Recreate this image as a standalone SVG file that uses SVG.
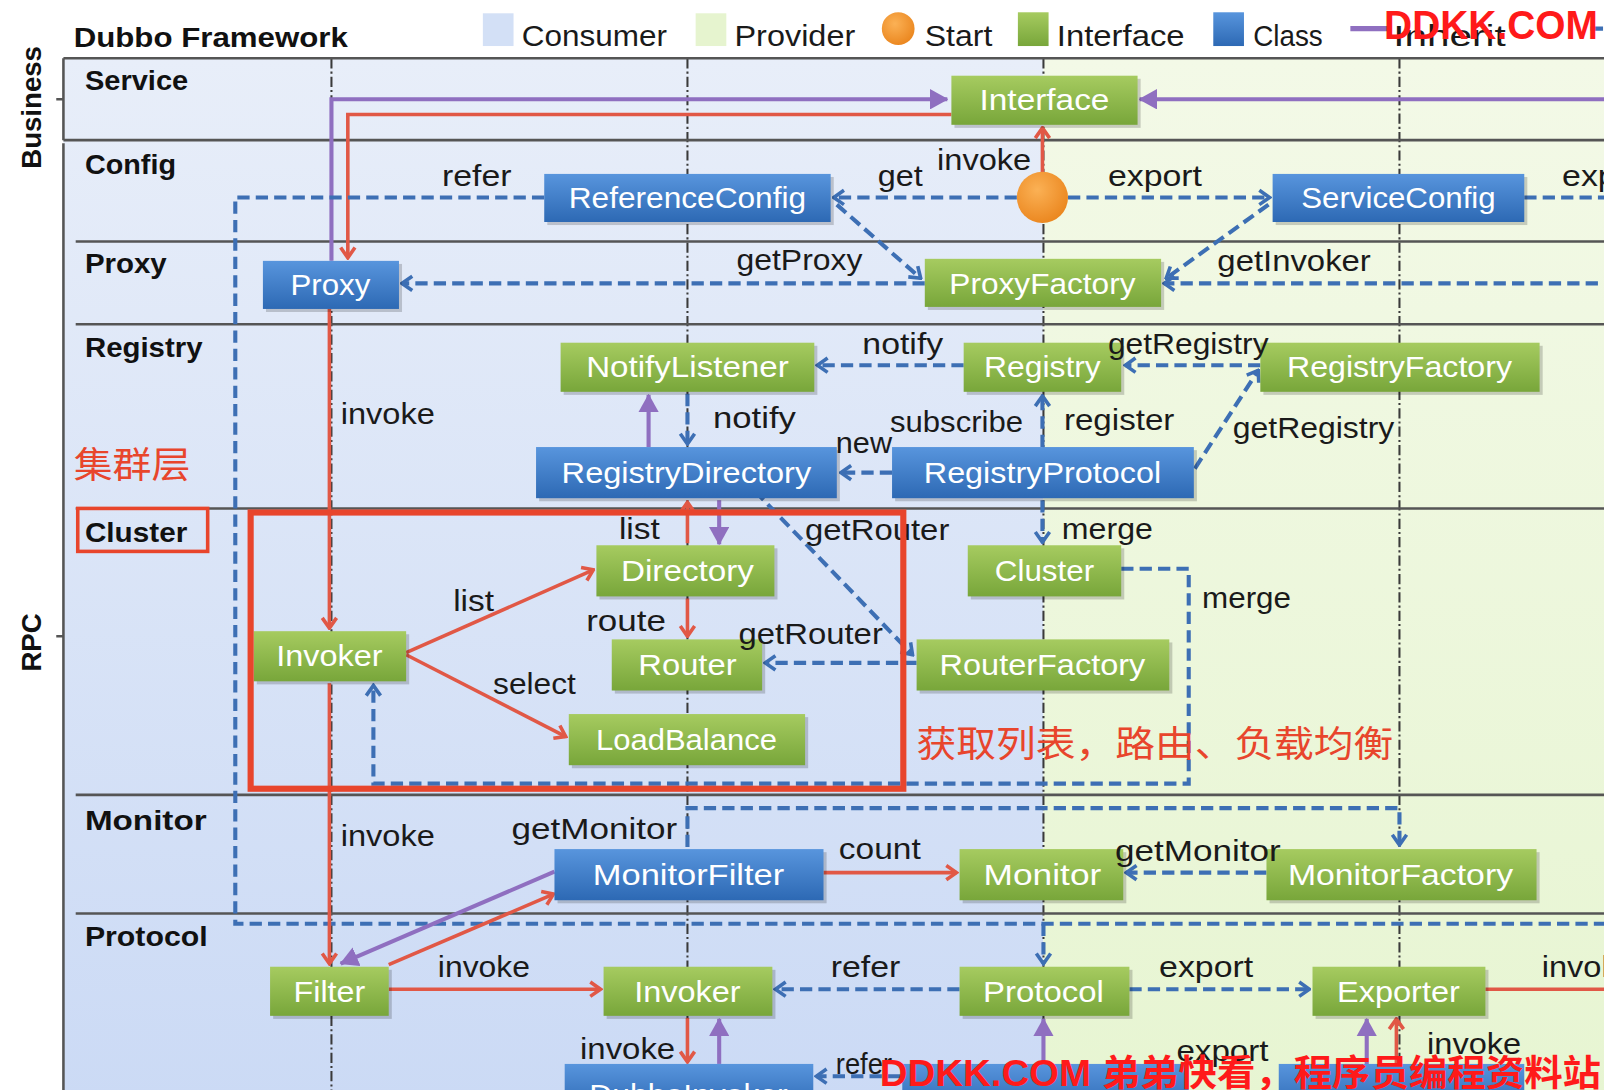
<svg xmlns="http://www.w3.org/2000/svg" width="1604" height="1090" viewBox="0 0 1604 1090">
<defs>
<style>
.nt{font-family:"Liberation Sans",Arial,sans-serif;font-size:28px;fill:#ffffff;text-anchor:middle}
.lb{font-family:"Liberation Sans",Arial,sans-serif;font-size:28px;fill:#1a1a1a}
.ly{font-family:"Liberation Sans",Arial,sans-serif;font-size:27px;font-weight:bold;fill:#111}
.lg{font-family:"Liberation Sans",Arial,sans-serif;font-size:29px;fill:#1a1a1a}
.g{fill:url(#gg)}
.b{fill:url(#bg)}
.sh{fill:#000;opacity:0.18}
.dash{stroke:#3d6fb4;stroke-width:4;stroke-dasharray:12 6;fill:none}
.red{stroke:#e15846;stroke-width:3.5;fill:none}
.pur{stroke:#8f6fc0;stroke-width:4;fill:none}
.dd{stroke:#3a3a3a;stroke-width:2;stroke-dasharray:10 3 2 3;fill:none}
.hl{stroke:#555;stroke-width:2.5;fill:none}
.ann{font-family:"Noto Sans CJK SC","Noto Sans",sans-serif;font-size:36px;fill:#e8452c}
.wm{font-family:"Liberation Sans","Noto Sans CJK SC",sans-serif;font-weight:bold;fill:#ff1a1a}
</style>
<linearGradient id="gg" x1="0" y1="0" x2="0" y2="1"><stop offset="0" stop-color="#a6cb60"/><stop offset="1" stop-color="#78a63a"/></linearGradient>
<linearGradient id="bg" x1="0" y1="0" x2="0" y2="1"><stop offset="0" stop-color="#5895dd"/><stop offset="1" stop-color="#2d69b4"/></linearGradient>
<linearGradient id="cbg" x1="0" y1="0" x2="0" y2="1"><stop offset="0" stop-color="#e8eef9"/><stop offset="1" stop-color="#cbdaf5"/></linearGradient>
<linearGradient id="pbg" x1="0" y1="0" x2="0" y2="1"><stop offset="0" stop-color="#f3f9e7"/><stop offset="1" stop-color="#e7f5d2"/></linearGradient>
<radialGradient id="og" cx="0.4" cy="0.35" r="0.7"><stop offset="0" stop-color="#fbb155"/><stop offset="1" stop-color="#ea851d"/></radialGradient>
<marker id="ab" viewBox="0 0 14 18" refX="12" refY="9" markerWidth="14" markerHeight="18" markerUnits="userSpaceOnUse" orient="auto"><path d="M2,2 L12,9 L2,16" fill="none" stroke="#3d6fb4" stroke-width="3.5"/></marker>
<marker id="ar" viewBox="0 0 14 18" refX="12" refY="9" markerWidth="14" markerHeight="18" markerUnits="userSpaceOnUse" orient="auto"><path d="M2,2 L12,9 L2,16" fill="none" stroke="#e15846" stroke-width="3.5"/></marker>
<marker id="ap" viewBox="0 0 18 20" refX="17" refY="10" markerWidth="18" markerHeight="20" markerUnits="userSpaceOnUse" orient="auto"><path d="M0,0 L18,10 L0,20 Z" fill="#8f6fc0"/></marker>
</defs>
<rect x="0" y="0" width="1604" height="1090" fill="#ffffff"/>
<g transform="scale(1.023)">
<g id="background">
<rect x="62" y="57" width="958" height="1020" fill="url(#cbg)"/>
<rect x="1020" y="57" width="560" height="1020" fill="url(#pbg)"/>
<path class="dd" d="M324,57 V1070 M672,57 V1070 M1020,57 V1070 M1368,57 V1070"/>
<path class="hl" d="M62,57 H1580 M62,137 H1580 M74,236 H1580 M74,317 H1580 M74,497 H1580 M74,777 H1580 M74,893 H1580"/>
<path class="hl" d="M62,57 V137 M55,97 H62 M62,140 V1070 M55,622 H62"/>
<text class="ly" transform="translate(40,105) rotate(-90)" text-anchor="middle" textLength="120" lengthAdjust="spacingAndGlyphs">Business</text>
<text class="ly" transform="translate(40,628) rotate(-90)" text-anchor="middle" textLength="57" lengthAdjust="spacingAndGlyphs">RPC</text>
<text class="ly" x="83" y="88" textLength="101" lengthAdjust="spacingAndGlyphs">Service</text>
<text class="ly" x="83" y="170" textLength="89" lengthAdjust="spacingAndGlyphs">Config</text>
<text class="ly" x="83" y="267" textLength="80" lengthAdjust="spacingAndGlyphs">Proxy</text>
<text class="ly" x="83" y="349" textLength="115" lengthAdjust="spacingAndGlyphs">Registry</text>
<text class="ly" x="83" y="530" textLength="100" lengthAdjust="spacingAndGlyphs">Cluster</text>
<text class="ly" x="83" y="811" textLength="119" lengthAdjust="spacingAndGlyphs">Monitor</text>
<text class="ly" x="83" y="925" textLength="120" lengthAdjust="spacingAndGlyphs">Protocol</text>
</g>
<g id="legend">
<text class="ly" x="72" y="46" font-size="28" textLength="268" lengthAdjust="spacingAndGlyphs">Dubbo Framework</text>
<rect x="472" y="13" width="30" height="32" fill="#d3e0f6"/>
<text class="lg" x="510" y="45" textLength="142" lengthAdjust="spacingAndGlyphs">Consumer</text>
<rect x="680" y="13" width="30" height="32" fill="#e6f4cf"/>
<text class="lg" x="718" y="45" textLength="118" lengthAdjust="spacingAndGlyphs">Provider</text>
<circle cx="878" cy="28" r="16" fill="url(#og)"/>
<text class="lg" x="904" y="45" textLength="66" lengthAdjust="spacingAndGlyphs">Start</text>
<rect x="995" y="12" width="30" height="33" fill="url(#gg)"/>
<text class="lg" x="1033" y="45" textLength="125" lengthAdjust="spacingAndGlyphs">Interface</text>
<rect x="1186" y="12" width="30" height="33" fill="url(#bg)"/>
<text class="lg" x="1225" y="45" textLength="68" lengthAdjust="spacingAndGlyphs">Class</text>
<path d="M1320,28 H1358" stroke="#8f6fc0" stroke-width="5"/>
<text class="lg" x="1362" y="45" textLength="110" lengthAdjust="spacingAndGlyphs">Inherit</text>
<path d="M1555,28 H1580" stroke="#3d6fb4" stroke-width="4" stroke-dasharray="12 6"/>
</g>
<g id="connectors">
<path class="pur" d="M324,255 V97 H926" marker-end="url(#ap)"/>
<path class="red" d="M930,112 H340 V252" marker-end="url(#ar)"/>
<path class="pur" d="M1580,97 H1114" marker-end="url(#ap)"/>
<path class="red" d="M1019,170 V125" marker-end="url(#ar)"/>
<path class="dash" d="M532,193 H230 V903 H1580"/>
<path class="dash" d="M1020,903 V942" marker-end="url(#ab)"/>
<path class="dash" d="M994,193 H815" marker-end="url(#ab)"/>
<path class="dash" d="M1044,193 H1241" marker-end="url(#ab)"/>
<path class="dash" d="M1490,193 H1580"/>
<path class="dash" d="M818,200 L900,272" marker-end="url(#ab)"/>
<path class="dash" d="M1240,200 L1140,272" marker-end="url(#ab)"/>
<path class="dash" d="M904,277 H393" marker-end="url(#ab)"/>
<path class="dash" d="M1580,277 H1138" marker-end="url(#ab)"/>
<path class="red" d="M322,302 V614" marker-end="url(#ar)"/>
<path class="dash" d="M942,357 H799" marker-end="url(#ab)"/>
<path class="dash" d="M1232,357 H1100" marker-end="url(#ab)"/>
<path class="dash" d="M1168,458 L1230,362" marker-end="url(#ab)"/>
<path class="dash" d="M1019,437 V387" marker-end="url(#ab)"/>
<path class="dash" d="M872,462 H822" marker-end="url(#ab)"/>
<path class="pur" d="M634,437 V386" marker-end="url(#ap)"/>
<path class="dash" d="M672,385 V434" marker-end="url(#ab)"/>
<path class="red" d="M672,531 V491" marker-end="url(#ar)"/>
<path class="pur" d="M703,489 V532" marker-end="url(#ap)"/>
<path class="dash" d="M738,480 L892,640" marker-end="url(#ab)"/>
<path class="dash" d="M1019,489 V530" marker-end="url(#ab)"/>
<path class="dash" d="M1096,556 H1162 V766 H365 V670" marker-end="url(#ab)"/>
<path class="red" d="M397,638 L580,557" marker-end="url(#ar)"/>
<path class="red" d="M397,640 L553,720" marker-end="url(#ar)"/>
<path class="red" d="M672,585 V622" marker-end="url(#ar)"/>
<path class="dash" d="M896,648 H748" marker-end="url(#ab)"/>
<path class="red" d="M322,668 V942" marker-end="url(#ar)"/>
<path class="dash" d="M672,828 V790 H1368 V826" marker-end="url(#ab)"/>
<path class="dash" d="M1238,853 H1101" marker-end="url(#ab)"/>
<path class="red" d="M805,853 H935" marker-end="url(#ar)"/>
<path class="pur" d="M542,852 L333,942" marker-end="url(#ap)"/>
<path class="red" d="M380,943 L541,874" marker-end="url(#ar)"/>
<path class="red" d="M380,967 H587" marker-end="url(#ar)"/>
<path class="dash" d="M938,967 H758" marker-end="url(#ab)"/>
<path class="dash" d="M1104,967 H1280" marker-end="url(#ab)"/>
<path class="red" d="M1452,967 H1580"/>
<path class="red" d="M672,995 V1038" marker-end="url(#ar)"/>
<path class="pur" d="M703,1040 V996" marker-end="url(#ap)"/>
<path class="pur" d="M1020,1045 V996" marker-end="url(#ap)"/>
<path class="pur" d="M1336,1045 V996" marker-end="url(#ap)"/>
<path class="red" d="M1365,1045 V996" marker-end="url(#ar)"/>
<path class="dash" d="M880,1052 H798" marker-end="url(#ab)"/>
</g>
<g id="n-start"><circle cx="1019" cy="193" r="25" fill="url(#og)"/></g>
<g id="n-interface"><rect class="sh" x="933" y="77" width="182" height="48"/><rect class="g" x="930" y="74" width="182" height="48"/><text class="nt" x="1021" y="108" textLength="127" lengthAdjust="spacingAndGlyphs">Interface</text></g>
<g id="n-referenceconfig"><rect class="sh" x="535" y="173" width="280" height="47"/><rect class="b" x="532" y="170" width="280" height="47"/><text class="nt" x="672" y="203" textLength="232" lengthAdjust="spacingAndGlyphs">ReferenceConfig</text></g>
<g id="n-serviceconfig"><rect class="sh" x="1247" y="173" width="246" height="47"/><rect class="b" x="1244" y="170" width="246" height="47"/><text class="nt" x="1367" y="203" textLength="190" lengthAdjust="spacingAndGlyphs">ServiceConfig</text></g>
<g id="n-proxy"><rect class="sh" x="260" y="258" width="133" height="47"/><rect class="b" x="257" y="255" width="133" height="47"/><text class="nt" x="323" y="288" textLength="78" lengthAdjust="spacingAndGlyphs">Proxy</text></g>
<g id="n-proxyfactory"><rect class="sh" x="907" y="256" width="231" height="47"/><rect class="g" x="904" y="253" width="231" height="47"/><text class="nt" x="1019" y="287" textLength="182" lengthAdjust="spacingAndGlyphs">ProxyFactory</text></g>
<g id="n-notifylistener"><rect class="sh" x="551" y="338" width="248" height="48"/><rect class="g" x="548" y="335" width="248" height="48"/><text class="nt" x="672" y="369" textLength="198" lengthAdjust="spacingAndGlyphs">NotifyListener</text></g>
<g id="n-registry"><rect class="sh" x="945" y="338" width="154" height="48"/><rect class="g" x="942" y="335" width="154" height="48"/><text class="nt" x="1019" y="369" textLength="114" lengthAdjust="spacingAndGlyphs">Registry</text></g>
<g id="n-registryfactory"><rect class="sh" x="1235" y="338" width="273" height="48"/><rect class="g" x="1232" y="335" width="273" height="48"/><text class="nt" x="1368" y="369" textLength="220" lengthAdjust="spacingAndGlyphs">RegistryFactory</text></g>
<g id="n-registrydirectory"><rect class="sh" x="527" y="440" width="294" height="50"/><rect class="b" x="524" y="437" width="294" height="50"/><text class="nt" x="671" y="472" textLength="244" lengthAdjust="spacingAndGlyphs">RegistryDirectory</text></g>
<g id="n-registryprotocol"><rect class="sh" x="875" y="440" width="295" height="50"/><rect class="b" x="872" y="437" width="295" height="50"/><text class="nt" x="1019" y="472" textLength="232" lengthAdjust="spacingAndGlyphs">RegistryProtocol</text></g>
<g id="n-directory"><rect class="sh" x="586" y="536" width="174" height="50"/><rect class="g" x="583" y="533" width="174" height="50"/><text class="nt" x="672" y="568" textLength="130" lengthAdjust="spacingAndGlyphs">Directory</text></g>
<g id="n-cluster"><rect class="sh" x="949" y="536" width="150" height="50"/><rect class="g" x="946" y="533" width="150" height="50"/><text class="nt" x="1021" y="568" textLength="97" lengthAdjust="spacingAndGlyphs">Cluster</text></g>
<g id="n-invoker"><rect class="sh" x="251" y="620" width="149" height="49"/><rect class="g" x="248" y="617" width="149" height="49"/><text class="nt" x="322" y="651" textLength="104" lengthAdjust="spacingAndGlyphs">Invoker</text></g>
<g id="n-router"><rect class="sh" x="601" y="628" width="147" height="50"/><rect class="g" x="598" y="625" width="147" height="50"/><text class="nt" x="672" y="660" textLength="96" lengthAdjust="spacingAndGlyphs">Router</text></g>
<g id="n-routerfactory"><rect class="sh" x="899" y="628" width="247" height="50"/><rect class="g" x="896" y="625" width="247" height="50"/><text class="nt" x="1019" y="660" textLength="201" lengthAdjust="spacingAndGlyphs">RouterFactory</text></g>
<g id="n-loadbalance"><rect class="sh" x="559" y="701" width="231" height="50"/><rect class="g" x="556" y="698" width="231" height="50"/><text class="nt" x="671" y="733" textLength="177" lengthAdjust="spacingAndGlyphs">LoadBalance</text></g>
<g id="n-monitorfilter"><rect class="sh" x="545" y="833" width="263" height="50"/><rect class="b" x="542" y="830" width="263" height="50"/><text class="nt" x="673" y="865" textLength="187" lengthAdjust="spacingAndGlyphs">MonitorFilter</text></g>
<g id="n-monitor"><rect class="sh" x="941" y="833" width="160" height="50"/><rect class="g" x="938" y="830" width="160" height="50"/><text class="nt" x="1019" y="865" textLength="115" lengthAdjust="spacingAndGlyphs">Monitor</text></g>
<g id="n-monitorfactory"><rect class="sh" x="1241" y="833" width="264" height="50"/><rect class="g" x="1238" y="830" width="264" height="50"/><text class="nt" x="1369" y="865" textLength="220" lengthAdjust="spacingAndGlyphs">MonitorFactory</text></g>
<g id="n-filter"><rect class="sh" x="267" y="948" width="116" height="48"/><rect class="g" x="264" y="945" width="116" height="48"/><text class="nt" x="322" y="979" textLength="70" lengthAdjust="spacingAndGlyphs">Filter</text></g>
<g id="n-invoker2"><rect class="sh" x="593" y="948" width="165" height="48"/><rect class="g" x="590" y="945" width="165" height="48"/><text class="nt" x="672" y="979" textLength="104" lengthAdjust="spacingAndGlyphs">Invoker</text></g>
<g id="n-protocol"><rect class="sh" x="941" y="948" width="166" height="48"/><rect class="g" x="938" y="945" width="166" height="48"/><text class="nt" x="1020" y="979" textLength="118" lengthAdjust="spacingAndGlyphs">Protocol</text></g>
<g id="n-exporter"><rect class="sh" x="1286" y="948" width="169" height="48"/><rect class="g" x="1283" y="945" width="169" height="48"/><text class="nt" x="1367" y="979" textLength="120" lengthAdjust="spacingAndGlyphs">Exporter</text></g>
<g id="n-dubboinvoker"><rect class="b" x="552" y="1040" width="243" height="45"/><text class="nt" x="673" y="1080" textLength="194" lengthAdjust="spacingAndGlyphs">DubboInvoker</text></g>
<g id="n-dubboprotocol"><rect class="b" x="882" y="1040" width="280" height="45"/></g>
<g id="n-dubboexporter"><rect class="b" x="1250" y="1040" width="240" height="45"/></g>
<g id="labels">
<text class="lb" x="432" y="182" textLength="68" lengthAdjust="spacingAndGlyphs">refer</text>
<text class="lb" x="858" y="182" textLength="44" lengthAdjust="spacingAndGlyphs">get</text>
<text class="lb" x="916" y="166" textLength="92" lengthAdjust="spacingAndGlyphs">invoke</text>
<text class="lb" x="1083" y="182" textLength="92" lengthAdjust="spacingAndGlyphs">export</text>
<text class="lb" x="1527" y="182" textLength="92" lengthAdjust="spacingAndGlyphs">export</text>
<text class="lb" x="720" y="264" textLength="123" lengthAdjust="spacingAndGlyphs">getProxy</text>
<text class="lb" x="1190" y="265" textLength="150" lengthAdjust="spacingAndGlyphs">getInvoker</text>
<text class="lb" x="333" y="414" textLength="92" lengthAdjust="spacingAndGlyphs">invoke</text>
<text class="lb" x="843" y="346" textLength="79" lengthAdjust="spacingAndGlyphs">notify</text>
<text class="lb" x="1083" y="346" textLength="157" lengthAdjust="spacingAndGlyphs">getRegistry</text>
<text class="lb" x="697" y="418" textLength="81" lengthAdjust="spacingAndGlyphs">notify</text>
<text class="lb" x="870" y="422" textLength="130" lengthAdjust="spacingAndGlyphs">subscribe</text>
<text class="lb" x="1040" y="420" textLength="108" lengthAdjust="spacingAndGlyphs">register</text>
<text class="lb" x="1205" y="428" textLength="158" lengthAdjust="spacingAndGlyphs">getRegistry</text>
<text class="lb" x="817" y="443" textLength="55" lengthAdjust="spacingAndGlyphs">new</text>
<text class="lb" x="605" y="527" textLength="40" lengthAdjust="spacingAndGlyphs">list</text>
<text class="lb" x="787" y="528" textLength="141" lengthAdjust="spacingAndGlyphs">getRouter</text>
<text class="lb" x="1038" y="527" textLength="89" lengthAdjust="spacingAndGlyphs">merge</text>
<text class="lb" x="1175" y="594" textLength="87" lengthAdjust="spacingAndGlyphs">merge</text>
<text class="lb" x="443" y="597" textLength="40" lengthAdjust="spacingAndGlyphs">list</text>
<text class="lb" x="573" y="617" textLength="78" lengthAdjust="spacingAndGlyphs">route</text>
<text class="lb" x="722" y="630" textLength="141" lengthAdjust="spacingAndGlyphs">getRouter</text>
<text class="lb" x="482" y="678" textLength="81" lengthAdjust="spacingAndGlyphs">select</text>
<text class="lb" x="333" y="827" textLength="92" lengthAdjust="spacingAndGlyphs">invoke</text>
<text class="lb" x="500" y="820" textLength="162" lengthAdjust="spacingAndGlyphs">getMonitor</text>
<text class="lb" x="820" y="840" textLength="80" lengthAdjust="spacingAndGlyphs">count</text>
<text class="lb" x="1090" y="842" textLength="162" lengthAdjust="spacingAndGlyphs">getMonitor</text>
<text class="lb" x="428" y="955" textLength="90" lengthAdjust="spacingAndGlyphs">invoke</text>
<text class="lb" x="812" y="955" textLength="68" lengthAdjust="spacingAndGlyphs">refer</text>
<text class="lb" x="1133" y="955" textLength="92" lengthAdjust="spacingAndGlyphs">export</text>
<text class="lb" x="1507" y="955" textLength="92" lengthAdjust="spacingAndGlyphs">invoke</text>
<text class="lb" x="567" y="1035" textLength="93" lengthAdjust="spacingAndGlyphs">invoke</text>
<text class="lb" x="1150" y="1037" textLength="90" lengthAdjust="spacingAndGlyphs">export</text>
<text class="lb" x="1395" y="1030" textLength="92" lengthAdjust="spacingAndGlyphs">invoke</text>
<text class="lb" x="817" y="1050" textLength="55" lengthAdjust="spacingAndGlyphs">refer</text>
</g>
<g id="annotations">
<rect x="245" y="501" width="638" height="270" fill="none" stroke="#e8452c" stroke-width="6"/>
<rect x="76" y="497" width="127" height="42" fill="none" stroke="#e8452c" stroke-width="3.5"/>
<text class="ann" x="72" y="467" textLength="114" lengthAdjust="spacingAndGlyphs">集群层</text>
<text class="ann" x="896" y="740" textLength="466" lengthAdjust="spacingAndGlyphs">获取列表，路由、负载均衡</text>
</g>
<g id="watermarks">
<text class="wm" x="1353" y="38" font-size="40" textLength="209" lengthAdjust="spacingAndGlyphs">DDKK.COM</text>
<text class="wm" x="860" y="1062" font-size="36" textLength="705" lengthAdjust="spacingAndGlyphs">DDKK.COM 弟弟快看，程序员编程资料站</text>
</g>
</g>
</svg>
